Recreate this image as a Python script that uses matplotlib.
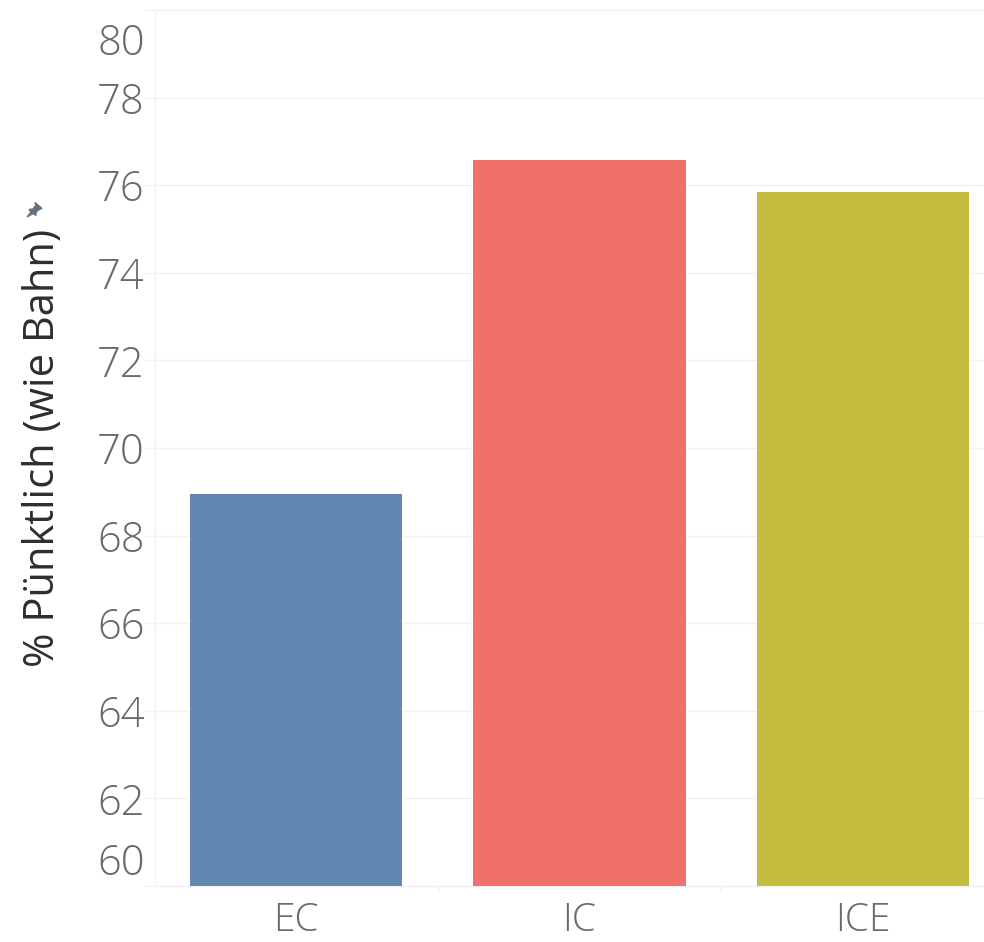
import matplotlib
matplotlib.use('Agg')
import matplotlib.pyplot as plt
from matplotlib.patches import Polygon
from matplotlib.transforms import ScaledTranslation

# 数据
categories = ['EC', 'IC', 'ICE']
values = [68.95, 76.58, 75.85]
colors = ['#6287b3', '#f0706a', '#c4bb3f']
y_ticks = [60, 62, 64, 66, 68, 70, 72, 74, 76, 78, 80]
# Tableau schiebt die Randbeschriftungen nach innen (Pixel nach oben)
label_shift = {60: 27, 80: -29}

W, H = 984, 942
plt.rcParams['font.family'] = ['Open Sans', 'DejaVu Sans']

fig = plt.figure(figsize=(W / 100, H / 100), dpi=100)
ax = fig.add_axes([154.5 / W, 1 - 886 / H, (W - 154.5) / W, 876 / H])

ax.bar(categories, values, width=0.75, color=colors, zorder=3, bottom=0)
ax.set_ylim(60, 80)
ax.set_xlim(-0.5, 2.427)

ax.set_yticks(y_ticks)
ax.set_yticklabels([str(v) for v in y_ticks])
ax.grid(axis='y', color='#f2f2f2', linewidth=1, zorder=0)
ax.set_axisbelow(True)

ax.set_xticks([0.5, 1.5], minor=True)
ax.tick_params(axis='x', which='major', length=0, labelsize=28, labelcolor='#696969', pad=11)
ax.tick_params(axis='x', which='minor', length=5, color='#f0f0f0', width=1)
ax.tick_params(axis='y', length=7, color='#f0f0f0', width=1, labelsize=30, labelcolor='#696969', pad=0)

for lab in ax.get_xticklabels() + ax.get_yticklabels():
    lab.set_fontweight('light')

for tick, v in zip(ax.yaxis.get_major_ticks(), y_ticks):
    shift = label_shift.get(v, 0)
    offset = ScaledTranslation(0, shift / 100, fig.dpi_scale_trans)
    tick.label1.set_transform(tick.label1.get_transform() + offset)

for s in ['left', 'bottom', 'top']:
    ax.spines[s].set_color('#f2f2f2')
    ax.spines[s].set_linewidth(1)
ax.spines['right'].set_visible(False)

fig.text(43 / W, 1 - 448 / H, '% Pünktlich (wie Bahn)', rotation=90, ha='center', va='center',
         fontsize=30, color='#2e2e2e', fontweight='medium')

# kleines Pin-Symbol neben dem Achsentitel
pin = [(27, 217), (31, 212), (29, 209.5), (33, 209), (36, 205), (35, 202.5), (42, 208.5),
       (40, 209), (36, 212), (36, 215.5), (33, 213.5)]
fig.add_artist(Polygon([(x / W, 1 - y / H) for x, y in pin], closed=True, color='#66727d',
                       transform=fig.transFigure))

fig.savefig('out.png', dpi=100)
